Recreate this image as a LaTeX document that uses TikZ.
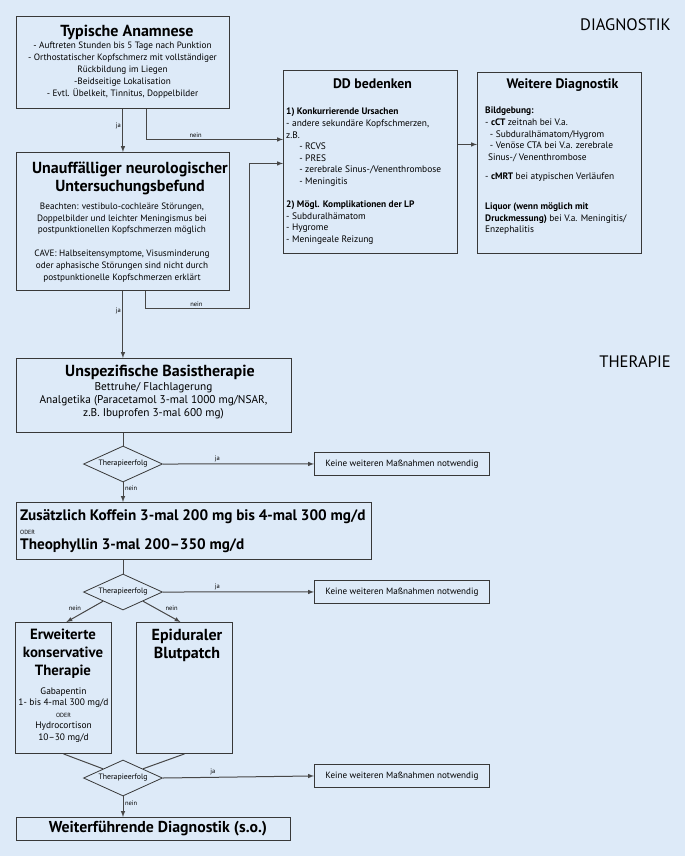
\documentclass[tikz,border=0pt]{standalone}
\usepackage{fontspec}
\setmainfont{PT Sans}
\usepackage{xcolor}
\usetikzlibrary{positioning,shapes.geometric}
\definecolor{bgblue}{HTML}{DDEAF8}
\definecolor{boxline}{HTML}{383838}
\definecolor{conline}{HTML}{474747}
\newcommand{\oder}{{\fontsize{6}{7}\selectfont ODER}}

\begin{document}
\begin{tikzpicture}[x=1pt, y=-1pt,
    box/.style={draw=boxline, line width=0.9pt, rectangle, inner sep=0pt, anchor=north west},
    ttl/.style={font=\bfseries\fontsize{16}{18}\selectfont, align=center, inner sep=0pt},
    body/.style={font=\fontsize{9.2}{11.9}\selectfont, align=center, inner sep=0pt},
    lbody/.style={font=\fontsize{9.4}{11.6}\selectfont, align=left, inner sep=0pt, anchor=north west},
    endbox/.style={box, minimum width=175pt, minimum height=23pt, font=\fontsize{9.1}{10}\selectfont},
    query/.style={diamond, aspect=2.2, draw=boxline, line width=0.8pt, minimum width=79pt, minimum height=36pt, inner sep=0pt, font=\fontsize{7.8}{8}\selectfont},
    con/.style={draw=conline, line width=1pt},
    arr/.style={con, -latex},
    lbl/.style={font=\fontsize{6.5}{7}\selectfont, inner sep=1.5pt}]
    \fill[bgblue] (0,0) rectangle (685,856);
    \useasboundingbox (0,0) rectangle (685,856);

    % Section titles
    \node[font=\fontsize{16.6}{18}\selectfont, anchor=east, inner sep=0pt] (diag) at (671,25) {DIAGNOSTIK};
    \node[font=\fontsize{16.6}{18}\selectfont, anchor=east, inner sep=0pt] (ther) at (671,362) {THERAPIE};

    % Typische Anamnese
    \node[box, minimum width=213pt, minimum height=92pt] (anam) at (16,16) {};
    \node[ttl] (anamttl) at (127,32) {Typische Anamnese};
    \node[body] (anamtxt) at (122.5,70) {- Auftreten Stunden bis 5 Tage nach Punktion\\
        - Orthostatischer Kopfschmerz mit vollständiger\\
        Rückbildung im Liegen\\
        -Beidseitige Lokalisation\\
        - Evtl. Übelkeit, Tinnitus, Doppelbilder};

    % Neurologischer Befund
    \node[box, minimum width=213pt, minimum height=138pt] (befund) at (16,152) {};
    \node[ttl] (befundttl) at (130,178) {Unauffälliger neurologischer\\Untersuchungsbefund};
    \node[body] (befundtxt) at (122,242.5) {Beachten: vestibulo-cochleäre Störungen,\\
        Doppelbilder und leichter Meningismus bei\\
        postpunktionellen Kopfschmerzen möglich\\[11.9pt]
        CAVE: Halbseitensymptome, Visusminderung\\
        oder aphasische Störungen sind nicht durch\\
        postpunktionelle Kopfschmerzen erklärt};

    % DD bedenken
    \node[box, minimum width=174pt, minimum height=183pt] (dd) at (283,70) {};
    \node[ttl, font=\bfseries\fontsize{13.8}{16}\selectfont] (ddttl) at (372.5,84) {DD bedenken};
    \node[lbody] (ddtxt) at (286,108) {\textbf{1) Konkurrierende Ursachen}\\
        - andere sekundäre Kopfschmerzen,\\
        z.B.\\
        \hspace*{1.4em}- RCVS\\
        \hspace*{1.4em}- PRES\\
        \hspace*{1.4em}- zerebrale Sinus-/Venenthrombose\\
        \hspace*{1.4em}- Meningitis\\[11.4pt]
        \textbf{2) Mögl. Komplikationen der LP}\\
        - Subduralhämatom\\
        - Hygrome\\
        - Meningeale Reizung};

    % Weitere Diagnostik
    \node[box, minimum width=164pt, minimum height=181pt] (weitere) at (477,72) {};
    \node[ttl, font=\bfseries\fontsize{13.8}{16}\selectfont] (weiterettl) at (562.5,85) {Weitere Diagnostik};
    \node[lbody] (weiteretxt) at (485,107) {\textbf{Bildgebung:}\\
        - \textbf{cCT} zeitnah bei V.a.\\
        \hspace*{0.5em}- Subduralhämatom/Hygrom\\
        \hspace*{0.5em}- Venöse CTA bei V.a. zerebrale\\
        \hspace*{0.3em}Sinus-/ Venenthrombose\\[7.5pt]
        - \textbf{cMRT} bei atypischen Verläufen\\[18.5pt]
        \textbf{Liquor (wenn möglich mit}\\
        \textbf{Druckmessung)} bei V.a. Meningitis/\\
        Enzephalitis};

    % Unspezifische Basistherapie
    \node[box, minimum width=275pt, minimum height=74pt] (basis) at (16,358) {};
    \node[ttl] (basisttl) at (160,372) {Unspezifische Basistherapie};
    \node[body, font=\fontsize{11.3}{12.8}\selectfont] (basistxt) at (153.5,401) {Bettruhe/ Flachlagerung\\
        Analgetika (Paracetamol 3-mal 1000 mg/NSAR,\\
        z.B. Ibuprofen 3-mal 600 mg)};

    % Koffein oder Theophyllin
    \node[box, minimum width=355pt, minimum height=57pt] (koffein) at (16,502) {};
    \node[ttl, font=\bfseries\fontsize{15.2}{16}\selectfont, anchor=west] (koffeinttl) at (20,517) {Zusätzlich Koffein 3-mal 200 mg bis 4-mal 300 mg/d};
    \node[anchor=west, inner sep=0pt] (koffeinoder) at (20,532) {\oder};
    \node[ttl, font=\bfseries\fontsize{15.2}{16}\selectfont, anchor=west] (theottl) at (20,546) {Theophyllin 3-mal 200–350 mg/d};

    % Erweiterte konservative Therapie
    \node[box, minimum width=96pt, minimum height=131pt] (erw) at (15,622) {};
    \node[ttl, font=\bfseries\fontsize{14.8}{18}\selectfont] (erwttl) at (63,654) {Erweiterte\\konservative\\Therapie};
    \node[body, font=\fontsize{9.4}{11.5}\selectfont] (erwtxt) at (63.5,715) {Gabapentin\\
        1- bis 4-mal 300 mg/d\\
        \oder\\
        Hydrocortison\\
        10–30 mg/d};

    % Epiduraler Blutpatch
    \node[box, minimum width=96pt, minimum height=131pt] (epi) at (136,622) {};
    \node[ttl, font=\bfseries\fontsize{16}{18}\selectfont] (epittl) at (187,645) {Epiduraler\\Blutpatch};

    % Weiterfuehrende Diagnostik
    \node[box, minimum width=274pt, minimum height=23pt] (weiterf) at (16,817) {};
    \node[ttl, font=\bfseries\fontsize{15.8}{16}\selectfont] (weiterfttl) at (158,828.5) {Weiterführende Diagnostik (s.o.)};

    % Decisions and end boxes
    \node[query] (erfolga) at (123,464) {Therapieerfolg};
    \node[query] (erfolgb) at (123,592) {Therapieerfolg};
    \node[query] (erfolgc) at (123,778) {Therapieerfolg};
    \node[endbox] (keinea) at (314,452) {Keine weiteren Maßnahmen notwendig};
    \node[endbox] (keineb) at (314,580) {Keine weiteren Maßnahmen notwendig};
    \node[endbox] (keinec) at (314,764) {Keine weiteren Maßnahmen notwendig};

    % Diagnostik connectors
    \draw[arr] (anam.south) -- node[lbl, left, pos=0.4] (ja1) {ja} (befund.north);
    \draw[arr] ([xshift=23.5pt]anam.south) |- node[lbl, above, pos=0.68] (nein1) {nein} ([yshift=22.5pt]dd.west);
    \draw[arr] ([xshift=22.5pt]befund.south) |- node[lbl, above, pos=0.745] (nein2) {nein} ++(104,18)
        |- ([yshift=-1.5pt]dd.west);
    \coordinate (ddout) at ([yshift=17.5pt]dd.east);
    \draw[arr] (ddout) -- (ddout -| weitere.west);
    \draw[arr] (befund.south) -- node[lbl, left, pos=0.3] (ja2) {ja} (befund.south |- basis.north);

    % Therapie connectors
    \draw[con] (erfolga.north |- basis.south) -- (erfolga.north);
    \draw[arr] (erfolga.east) -- node[lbl, above, pos=0.36] (ja3) {ja} (keinea.west);
    \draw[arr] (erfolga.south) -- node[lbl, right, pos=0.3] (nein3) {nein} (erfolga.south |- koffein.north);
    \draw[con] (erfolgb.north |- koffein.south) -- (erfolgb.north);
    \draw[arr] (erfolgb.east) -- node[lbl, above, pos=0.36] (ja4) {ja} (keineb.west);
    \draw[arr] (erfolgb.south west) -- node[lbl, above left, pos=0.55] (nein4) {nein} ([xshift=3pt]erw.north);
    \draw[arr] (erfolgb.south east) -- node[lbl, above right, pos=0.55] (nein5) {nein} ([xshift=-4pt]epi.north);
    \draw[con] (erw.south) -- (erfolgc.north west);
    \draw[con] (epi.south) -- (erfolgc.north east);
    \draw[arr] (erfolgc.east) -- node[lbl, above, pos=0.33] (ja5) {ja} (keinec.west);
    \draw[arr] (erfolgc.south) -- node[lbl, right, pos=0.35] (nein6) {nein} (erfolgc.south |- weiterf.north);
\end{tikzpicture}
\end{document}
